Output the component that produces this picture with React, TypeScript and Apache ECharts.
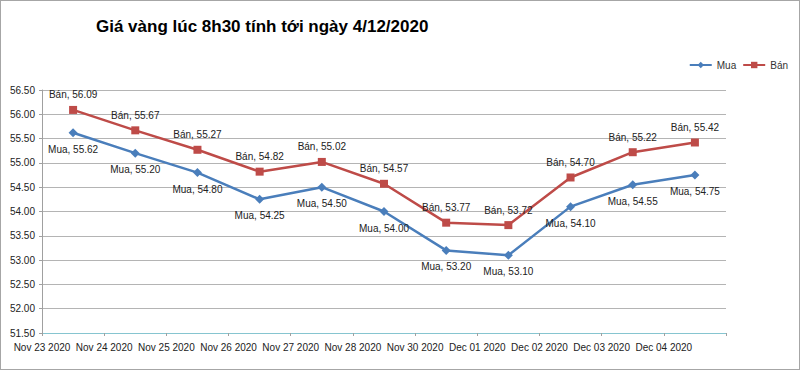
import React, { useEffect, useRef } from 'react';
import * as echarts from 'echarts';

const categories = [
  'Nov 23 2020', 'Nov 24 2020', 'Nov 25 2020', 'Nov 26 2020', 'Nov 27 2020',
  'Nov 28 2020', 'Nov 30 2020', 'Dec 01 2020', 'Dec 02 2020', 'Dec 03 2020', 'Dec 04 2020',
];
const muaValues = [55.62, 55.2, 54.8, 54.25, 54.5, 54.0, 53.2, 53.1, 54.1, 54.55, 54.75];
const banValues = [56.09, 55.67, 55.27, 54.82, 55.02, 54.57, 53.77, 53.72, 54.7, 55.22, 55.42];
const yMin = 51.5;
const yMax = 56.5;
const yStep = 0.5;
const titleText = 'Giá vàng lúc 8h30 tính tới ngày 4/12/2020';

const FONT = '"Liberation Sans", Arial, sans-serif';
const MUA_COLOR = '#4a7ebb';
const BAN_COLOR = '#be4b48';

export default function App() {
  const ref = useRef<HTMLDivElement>(null);
  useEffect(() => {
    if (!ref.current) return;
    const chart = echarts.init(ref.current, null, { renderer: 'svg' });
    chart.setOption({
      animation: false,
      backgroundColor: '#ffffff',
      textStyle: { fontFamily: FONT },
      title: {
        text: titleText,
        left: 90,
        top: 12,
        textStyle: { fontFamily: FONT, fontSize: 17, fontWeight: 'bold', color: '#000' },
      },
      legend: {
        right: 6,
        top: 54,
        itemWidth: 22,
        itemHeight: 8,
        itemGap: 6,
        textStyle: { fontFamily: FONT, fontSize: 10, color: '#333' },
        data: ['Mua', 'Bán'],
      },
      grid: { left: 41, right: 73, top: 89, bottom: 36, containLabel: false },
      xAxis: [
        {
          type: 'category',
          data: categories,
          boundaryGap: true,
          axisLine: { lineStyle: { color: '#86c5d0', width: 1 } },
          axisTick: { show: true, interval: 0, length: 3, lineStyle: { color: '#a0a0a0' } },
          axisLabel: { show: false },
        },
        {
          type: 'category',
          position: 'bottom',
          data: [...categories, ''],
          boundaryGap: false,
          axisLine: { show: false },
          axisTick: { show: false },
          axisLabel: {
            interval: 0,
            margin: 9,
            fontFamily: FONT,
            fontSize: 10,
            color: '#222',
          },
        },
      ],
      yAxis: {
        type: 'value',
        min: yMin,
        max: yMax,
        interval: yStep,
        axisLine: { show: true, lineStyle: { color: '#a0a0a0' } },
        axisTick: { show: true, length: 3, lineStyle: { color: '#a0a0a0' } },
        axisLabel: {
          margin: 7,
          fontFamily: FONT,
          fontSize: 10,
          color: '#222',
          formatter: (v: number) => v.toFixed(2),
        },
        splitLine: { lineStyle: { color: '#b4b4b4', width: 1 } },
      },
      series: [
        {
          name: 'Mua',
          type: 'line',
          xAxisIndex: 0,
          data: muaValues,
          symbol: 'diamond',
          symbolSize: 9,
          lineStyle: { color: MUA_COLOR, width: 2.5 },
          itemStyle: { color: MUA_COLOR },
          label: {
            show: true,
            position: 'bottom',
            distance: 7,
            fontFamily: FONT,
            fontSize: 10,
            color: '#222',
            formatter: (p: any) => 'Mua, ' + Number(p.value).toFixed(2),
          },
        },
        {
          name: 'Bán',
          type: 'line',
          xAxisIndex: 0,
          data: banValues,
          symbol: 'rect',
          symbolSize: 8,
          lineStyle: { color: BAN_COLOR, width: 2.5 },
          itemStyle: { color: BAN_COLOR },
          label: {
            show: true,
            position: 'top',
            distance: 6,
            fontFamily: FONT,
            fontSize: 10,
            color: '#222',
            formatter: (p: any) => 'Bán, ' + Number(p.value).toFixed(2),
          },
        },
      ],
    });
    return () => chart.dispose();
  }, []);
  return (
    <div
      style={{
        position: 'absolute',
        left: 0,
        top: 0,
        width: 800,
        height: 370,
        boxSizing: 'border-box',
        border: '1px solid #a6a6a6',
        background: '#fff',
      }}
    >
      <div ref={ref} style={{ width: 798, height: 368 }} />
    </div>
  );
}
